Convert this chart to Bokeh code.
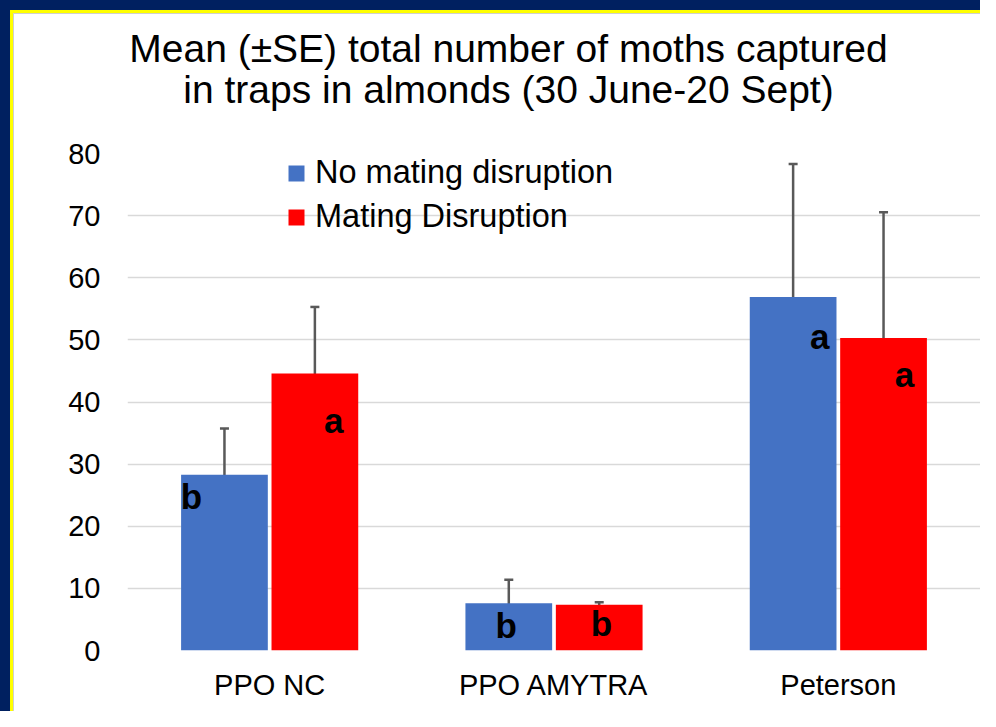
from bokeh.plotting import figure
from bokeh.models import (ColumnDataSource, FactorRange, Range1d, FixedTicker, Whisker,
                          TeeHead, Legend, LegendItem, Label)
from bokeh.transform import dodge
from bokeh.core.properties import value
from bokeh.embed import file_html
from bokeh.resources import INLINE

# ---------------- data ----------------
categories = ["PPO NC", "PPO AMYTRA", "Peterson"]
series_names = ["No mating disruption", "Mating Disruption"]
no_md_mean = [28.3, 7.6, 56.9]
no_md_se = [7.45, 3.8, 21.4]
md_mean = [44.6, 7.35, 50.3]
md_se = [10.7, 0.4, 20.25]
no_md_letters = ["b", "b", "a"]
md_letters = ["a", "b", "a"]
# letter label placement (value axis units / category offsets)
no_md_letter_y = [24.8, 4.0, 50.6]
md_letter_y = [37.0, 4.3, 44.4]
no_md_letter_dx = [-0.275, -0.168, -0.065]
md_letter_dx = [0.225, 0.167, 0.233]
y_ticks = [0, 10, 20, 30, 40, 50, 60, 70, 80]
title_lines = ["Mean (\u00b1SE) total number of moths captured",
               "in traps in almonds (30 June-20 Sept)"]

FONT = "Liberation Sans"
BLUE = "#4472C4"
RED = "#FF0000"
W_FIG, H_FIG = 980, 711
FL, FT, FB = 127, 153, 650   # frame left/top/bottom on the canvas

src = ColumnDataSource(dict(
    cat=categories,
    m0=no_md_mean, lo0=[m - s for m, s in zip(no_md_mean, no_md_se)],
    up0=[m + s for m, s in zip(no_md_mean, no_md_se)],
    m1=md_mean, lo1=[m - s for m, s in zip(md_mean, md_se)],
    up1=[m + s for m, s in zip(md_mean, md_se)],
))

p = figure(width=W_FIG, height=H_FIG, output_backend="svg", toolbar_location=None,
           title_location=None,
           x_range=FactorRange(factors=categories, range_padding=0),
           y_range=Range1d(0, 80),
           min_border_left=FL, min_border_right=0, min_border_top=FT,
           min_border_bottom=H_FIG - FB)
# transparent canvas; the white slide with its navy/yellow frame is the element background
p.border_fill_color = None
p.background_fill_color = None
p.outline_line_color = None
p.styles = {"background": (
    "linear-gradient(#002060, #002060) 0 0 / 100% 10px no-repeat, "
    "linear-gradient(#002060, #002060) 0 0 / 10px 100% no-repeat, "
    "linear-gradient(#ffff00, #ffff00) 10px 10px / 100% 3px no-repeat, "
    "linear-gradient(#ffff00, #ffff00) 10px 10px / 3px 100% no-repeat, "
    "linear-gradient(#cfcfcf, #cfcfcf) 13px 13px / 100% 1px no-repeat, "
    "linear-gradient(#cfcfcf, #cfcfcf) 13px 13px / 1px 100% no-repeat, "
    "#ffffff")}

OFF = 0.159
W = 0.305
r0 = p.vbar(x=dodge("cat", -OFF, range=p.x_range), top="m0", width=W, source=src,
            fill_color=BLUE, line_color=None)
r1 = p.vbar(x=dodge("cat", OFF, range=p.x_range), top="m1", width=W, source=src,
            fill_color=RED, line_color=None)

for off, lo, up in [(-OFF, "lo0", "up0"), (OFF, "lo1", "up1")]:
    w = Whisker(source=src, base=dodge("cat", off, range=p.x_range), lower=lo, upper=up,
                line_color="#595959", line_width=2.5,
                upper_head=TeeHead(size=9, line_color="#595959", line_width=2.5),
                lower_head=TeeHead(size=9, line_color="#595959", line_width=2.5))
    p.add_layout(w)

lsrc = ColumnDataSource(dict(
    x=[(c, d) for c, d in zip(categories, no_md_letter_dx)] + [(c, d) for c, d in zip(categories, md_letter_dx)],
    y=no_md_letter_y + md_letter_y,
    t=no_md_letters + md_letters,
))
p.text(x="x", y="y", text="t", source=lsrc, text_font=value(FONT), text_font_style="bold",
       text_font_size="35px", text_color="#000000", text_align="center",
       text_baseline="middle")

# axes
p.yaxis.ticker = FixedTicker(ticks=y_ticks)
for ax in (p.xaxis[0], p.yaxis[0]):
    ax.axis_line_color = None
    ax.major_tick_line_color = None
    ax.minor_tick_line_color = None
    ax.major_tick_out = 0
    ax.major_tick_in = 0
    ax.major_label_text_font = FONT
    ax.major_label_text_font_size = "29px"
    ax.major_label_text_color = "#000000"
p.yaxis.major_label_standoff = 27
p.xaxis.major_label_standoff = 18
p.xgrid.grid_line_color = None
p.ygrid.grid_line_color = "#d9d9d9"
p.ygrid.grid_line_width = 1.5

# legend
legend = Legend(items=[LegendItem(label=series_names[0], renderers=[r0]),
                       LegendItem(label=series_names[1], renderers=[r1])],
                location=(159, 415), orientation="vertical",
                glyph_width=20, glyph_height=20, label_standoff=9, spacing=7,
                padding=0, margin=0, border_line_color=None, background_fill_alpha=0,
                label_text_font=FONT, label_text_font_size="32.5px", label_text_color="#000000")
p.add_layout(legend)

# title lines in the top panel (each label gets its own slot; y upward from slot bottom)
for txt, yy in zip(title_lines, [105, 21]):
    p.add_layout(Label(x=508 - FL, y=yy, x_units="screen", y_units="screen", text=txt,
                       text_font=FONT, text_font_size="39px", text_color="#000000",
                       text_align="center", text_baseline="middle"), "above")

open("out.html", "w").write(file_html(p, INLINE))
